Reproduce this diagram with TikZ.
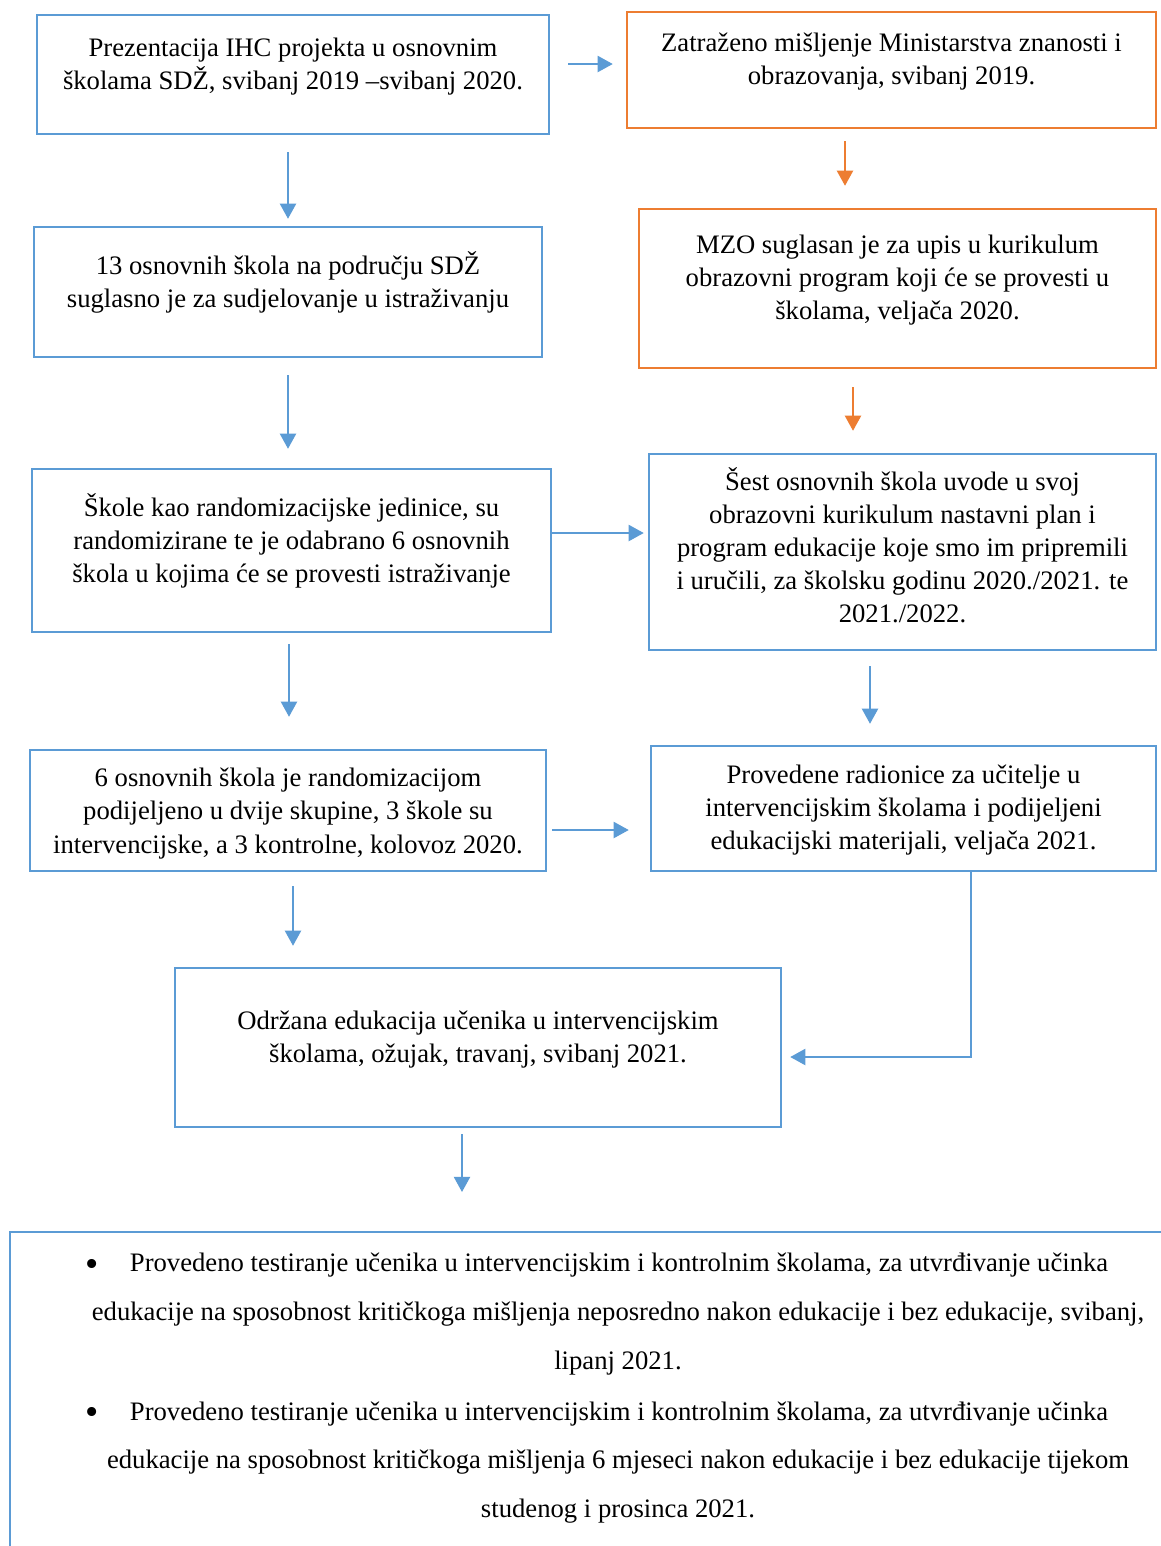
\documentclass[tikz,border=0pt]{standalone}
\usepackage{fontspec}
\setmainfont{Liberation Serif}
\usetikzlibrary{arrows.meta,calc}

\definecolor{boxblue}{HTML}{5B9BD5}
\definecolor{boxorange}{HTML}{ED7D31}
\newcommand{\pxunit}{0.45pt}
\newcommand{\listdot}{\raisebox{-2.2pt}{\fontsize{17pt}{17pt}\selectfont\textbullet}}

\begin{document}
\begin{tikzpicture}[x=0.45pt, y=-0.45pt,
  bluebox/.style={draw=boxblue, line width=1.1pt, inner sep=0pt},
  orangebox/.style={draw=boxorange, line width=1.1pt, inner sep=0pt},
  boxtext/.style={align=center, inner sep=0pt, font=\fontsize{12pt}{14.9pt}\selectfont},
  listtext/.style={align=center, inner sep=0pt, font=\fontsize{12pt}{22pt}\selectfont},
  bluearr/.style={draw=boxblue, line width=1pt, -{Triangle[length=6.8pt,width=7.2pt]}},
  orangearr/.style={draw=boxorange, line width=1pt, -{Triangle[length=6.8pt,width=7.2pt]}}]
\useasboundingbox (0, 0) rectangle (1161, 1546);
\fill [white] (0, 0) rectangle (1161, 1546);
\clip (0, 0) rectangle (1161, 1546);

\node [bluebox, minimum width=512*\pxunit, minimum height=119*\pxunit] (A) at (293, 74.5) {};
\node [orangebox, minimum width=529*\pxunit, minimum height=116*\pxunit] (B) at (891.5, 70) {};
\node [bluebox, minimum width=508*\pxunit, minimum height=130*\pxunit] (C) at (288, 292) {};
\node [orangebox, minimum width=517*\pxunit, minimum height=159*\pxunit] (D) at (897.5, 288.5) {};
\node [bluebox, minimum width=519*\pxunit, minimum height=163*\pxunit] (E) at (291.5, 550.5) {};
\node [bluebox, minimum width=507*\pxunit, minimum height=196*\pxunit] (F) at (902.5, 552) {};
\node [bluebox, minimum width=516*\pxunit, minimum height=121*\pxunit] (G) at (288, 810.5) {};
\node [bluebox, minimum width=505*\pxunit, minimum height=125*\pxunit] (H) at (903.5, 808.5) {};
\node [bluebox, minimum width=606*\pxunit, minimum height=159*\pxunit] (I) at (478, 1047.5) {};
\node [bluebox, anchor=north west, minimum width=1200*\pxunit, minimum height=400*\pxunit] (J) at (9, 1231) {};

\node [boxtext] (At) at ($(A.center)+(0,-8)$) {Prezentacija IHC projekta u osnovnim\\ školama SDŽ, svibanj 2019 –svibanj 2020.};
\node [boxtext] (Bt) at ($(B.center)+(0,-8.5)$) {Zatraženo mišljenje Ministarstva znanosti i\\ obrazovanja, svibanj 2019.};
\node [boxtext] (Ct) at ($(C.center)+(0,-10)$) {13 osnovnih škola na području SDŽ\\ suglasno je za sudjelovanje u istraživanju};
\node [boxtext] (Dt) at ($(D.center)+(0,-8.5)$) {MZO suglasan je za upis u kurikulum\\ obrazovni program koji će se provesti u\\ školama, veljača 2020.};
\node [boxtext] (Et) at ($(E.center)+(0,-10)$) {Škole kao randomizacijske jedinice, su\\ randomizirane te je odabrano 6 osnovnih\\ škola u kojima će se provesti istraživanje};
\node [boxtext] (Ft) at ($(F.center)+(0,-7)$) {Šest osnovnih škola uvode u svoj\\ obrazovni kurikulum nastavni plan i\\ program edukacije koje smo im pripremili\\ i uručili, za školsku godinu 2020./2021. te\\ 2021./2022.};
\node [boxtext] (Gt) at ($(G.center)+(0,3)$) {6 osnovnih škola je randomizacijom\\ podijeljeno u dvije skupine, 3 škole su\\ intervencijske, a 3 kontrolne, kolovoz 2020.};
\node [boxtext] (Ht) at ($(H.center)+(0,1.5)$) {Provedene radionice za učitelje u\\ intervencijskim školama i podijeljeni\\ edukacijski materijali, veljača 2021.};
\node [boxtext] (It) at ($(I.center)+(0,-8)$) {Održana edukacija učenika u intervencijskim\\ školama, ožujak, travanj, svibanj 2021.};

\node [listtext] (J1) at ($(J.north west)+(609,83)$) {\listdot\hspace{14pt}Provedeno testiranje učenika u intervencijskim i kontrolnim školama, za utvrđivanje učinka\hspace*{19pt}\\ edukacije na sposobnost kritičkoga mišljenja neposredno nakon edukacije i bez edukacije, svibanj,\\ lipanj 2021.};
\node [listtext] (J2) at ($(J.north west)+(609,231.5)$) {\listdot\hspace{14pt}Provedeno testiranje učenika u intervencijskim i kontrolnim školama, za utvrđivanje učinka\hspace*{19pt}\\ edukacije na sposobnost kritičkoga mišljenja 6 mjeseci nakon edukacije i bez edukacije tijekom\\ studenog i prosinca 2021.};

\draw [bluearr] ($(A.east)+(18,-10.5)$) -- ($(B.west)+(-13,-6)$);
\draw [bluearr] ($(A.south)+(-5,17)$) -- ($(C.north)+(0,-7)$);
\draw [orangearr] ($(B.south)+(-46.5,12)$) -- ($(D.north)+(-52.5,-22)$);
\draw [bluearr] ($(C.south)+(0,17)$) -- ($(E.north)+(-3.5,-19)$);
\draw [orangearr] ($(D.south)+(-44.5,18)$) -- ($(F.north)+(-49.5,-22)$);
\draw [bluearr] ($(E.east)+(0,-17.5)$) -- ($(F.west)+(-4,-19)$);
\draw [bluearr] ($(E.south)+(-2.5,11)$) -- ($(G.north)+(1,-32)$);
\draw [bluearr] ($(F.south)+(-32.5,15)$) -- ($(H.north)+(-33.5,-21)$);
\draw [bluearr] ($(G.east)+(5,19.5)$) -- ($(H.west)+(-21,21.5)$);
\draw [bluearr] ($(G.south)+(5,14)$) -- ($(I.north)+(-185,-21)$);
\draw [bluearr] ($(H.south)+(67.5,0)$) |- ($(I.east)+(8,9.5)$);
\draw [bluearr] ($(I.south)+(-16,6)$) -- ($(J.north west)+(453,-39)$);
\end{tikzpicture}
\end{document}
